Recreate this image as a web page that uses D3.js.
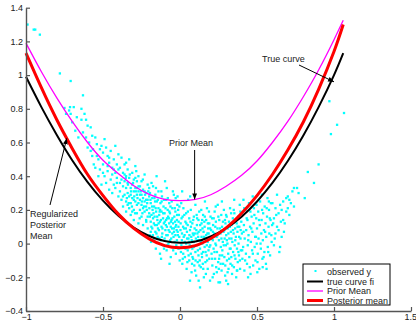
<!DOCTYPE html>
<html><head><meta charset="utf-8">
<script src="https://cdn.jsdelivr.net/npm/d3@7"></script>
<style>
html,body{margin:0;padding:0;background:#fff;}
svg{display:block;font-family:"Liberation Sans",Arial,sans-serif;}
</style></head>
<body><svg id="c" width="416" height="328"></svg>
<script>
// ---- data ----
const curveX = [-1,-0.9,-0.8,-0.7,-0.6,-0.5,-0.4,-0.3,-0.2,-0.1,0,0.1,0.2,0.3,0.4,0.5,0.6,0.7,0.8,0.9,1.0,1.06];
const trueCurve = [0.99,0.81,0.645,0.495,0.365,0.255,0.165,0.095,0.045,0.015,0.005,0.012,0.042,0.092,0.16,0.25,0.36,0.49,0.64,0.81,1.0,1.13];
const priorMean = [1.19,1.02,0.865,0.725,0.60,0.495,0.415,0.343,0.292,0.263,0.255,0.262,0.29,0.34,0.405,0.49,0.6,0.725,0.87,1.03,1.21,1.325];
const posteriorMean = [1.13,0.925,0.735,0.565,0.41,0.285,0.175,0.09,0.028,-0.012,-0.025,-0.012,0.03,0.093,0.18,0.285,0.41,0.555,0.72,0.915,1.14,1.30];
const observed = [
[-0.99,1.30],[-0.95,1.27],[-0.94,1.27],[-0.91,1.24],[-0.78,1.01],
[-0.71,0.965],[-0.63,0.88],[-0.75,0.805],[-0.714,0.81],[-0.69,0.81],[-0.64,0.80],[-0.62,0.77],[-0.74,0.77],[-0.71,0.77],[-0.64,0.735],[-0.61,0.735],[-0.68,0.67],[-0.66,0.63],[-0.61,0.63],[-0.70,0.72],[-0.67,0.75],[-0.60,0.70],[-0.63,0.66],[-0.72,0.79],
[-0.58,0.69],[-0.49,0.62],[-0.54,0.59],[-0.51,0.58],[-0.52,0.56],[-0.565,0.56],[-0.59,0.60],[-0.57,0.52],[-0.55,0.63],[-0.53,0.50],[-0.50,0.54],[-0.48,0.57],[-0.47,0.52],[-0.46,0.48],[-0.45,0.55],[-0.44,0.45],[-0.43,0.50],[-0.42,0.42],[-0.41,0.47],[-0.40,0.53],[-0.56,0.47],[-0.52,0.44],[-0.49,0.40],[-0.47,0.43],[-0.45,0.38],[-0.43,0.35],[-0.41,0.39],[-0.58,0.55],[-0.54,0.52],[-0.50,0.47],[-0.48,0.36],[-0.46,0.32],[-0.44,0.30],[-0.42,0.33],[-0.40,0.28],[-0.53,0.40],[-0.51,0.35],[-0.47,0.46],[-0.44,0.41],[-0.42,0.58],[-0.57,0.64],[-0.60,0.57],[-0.55,0.45],[-0.50,0.42],[-0.46,0.51],[-0.43,0.44],[-0.41,0.36],[-0.40,0.44],
[-0.39,0.31],[-0.39,0.45],[-0.38,0.26],[-0.38,0.38],[-0.38,0.51],[-0.37,0.34],[-0.37,0.22],[-0.37,0.42],[-0.36,0.29],[-0.36,0.47],[-0.36,0.37],[-0.35,0.19],[-0.35,0.33],[-0.35,0.40],[-0.35,0.25],[-0.34,0.30],[-0.34,0.44],[-0.34,0.36],[-0.33,0.21],[-0.33,0.28],[-0.33,0.39],[-0.33,0.50],[-0.32,0.33],[-0.32,0.24],[-0.32,0.17],[-0.31,0.35],[-0.31,0.42],[-0.31,0.27],[-0.30,0.31],[-0.30,0.20],[-0.30,0.38],[-0.30,0.14],[-0.29,0.25],[-0.29,0.33],[-0.29,0.46],[-0.28,0.29],[-0.28,0.18],[-0.28,0.37],[-0.28,0.23],[-0.27,0.31],[-0.27,0.12],[-0.27,0.40],[-0.26,0.26],[-0.26,0.20],[-0.26,0.34],[-0.25,0.29],[-0.25,0.16],[-0.25,0.37],[-0.25,0.23],[-0.24,0.27],[-0.24,0.11],[-0.24,0.32],[-0.23,0.19],[-0.23,0.25],[-0.23,0.41],[-0.22,0.30],[-0.22,0.14],[-0.22,0.22],[-0.21,0.35],[-0.21,0.26],[-0.21,0.09],[-0.20,0.18],[-0.20,0.28],[-0.20,0.33],[-0.39,0.36],[-0.37,0.28],[-0.36,0.41],[-0.34,0.23],[-0.32,0.29],[-0.31,0.19],[-0.29,0.39],[-0.27,0.24],[-0.26,0.29],[-0.24,0.21],[-0.22,0.26],[-0.21,0.16],[-0.35,0.48],[-0.30,0.26],[-0.28,0.33],[-0.23,0.31],
[-0.345,0.27],[-0.338,0.35],[-0.333,0.24],[-0.326,0.41],[-0.318,0.31],[-0.312,0.22],[-0.305,0.36],[-0.297,0.28],[-0.291,0.18],[-0.284,0.43],[-0.276,0.27],[-0.269,0.34],[-0.262,0.15],[-0.255,0.31],[-0.248,0.25],[-0.241,0.38],[-0.234,0.22],[-0.227,0.29],[-0.219,0.13],[-0.213,0.24],[-0.206,0.31],[-0.352,0.39],[-0.287,0.31],[-0.244,0.18],[-0.216,0.20],
[-0.199,0.21],[-0.197,0.05],[-0.195,0.30],[-0.19,0.13],[-0.19,0.24],[-0.188,0.01],[-0.185,0.17],[-0.18,0.09],[-0.18,0.27],[-0.178,0.20],[-0.175,0.34],[-0.17,0.12],[-0.17,0.03],[-0.168,0.22],[-0.165,0.16],[-0.16,0.07],[-0.16,0.29],[-0.157,-0.03],[-0.155,0.19],[-0.15,0.11],[-0.15,0.25],[-0.147,0.14],[-0.145,0.04],[-0.14,0.21],[-0.14,0.31],[-0.137,0.08],[-0.135,0.17],[-0.13,-0.06],[-0.13,0.13],[-0.127,0.24],[-0.125,0.02],[-0.12,0.19],[-0.12,0.10],[-0.117,0.28],[-0.115,0.06],[-0.11,0.15],[-0.11,-0.01],[-0.107,0.22],[-0.105,0.12],[-0.10,0.03],[-0.10,0.18],[-0.097,0.37],[-0.095,0.08],[-0.09,0.14],[-0.09,0.26],[-0.087,-0.04],[-0.085,0.10],[-0.08,0.20],[-0.08,0.05],[-0.077,0.16],[-0.075,0.00],[-0.07,0.12],[-0.07,0.24],[-0.067,0.07],[-0.065,0.18],[-0.06,-0.08],[-0.06,0.10],[-0.057,0.03],[-0.055,0.14],[-0.05,0.21],[-0.05,0.06],[-0.047,-0.02],[-0.045,0.12],[-0.04,0.29],[-0.04,0.09],[-0.037,0.16],[-0.035,0.01],[-0.03,0.05],[-0.03,0.19],[-0.027,-0.06],[-0.025,0.11],[-0.02,0.02],[-0.02,0.14],[-0.017,0.23],[-0.015,0.07],[-0.01,-0.03],[-0.01,0.10],[-0.007,0.17],[-0.005,0.04],[-0.002,-0.10],[-0.19,0.07],[-0.175,0.15],[-0.162,0.25],[-0.143,0.09],[-0.132,0.19],[-0.118,0.04],[-0.103,0.26],[-0.092,0.11],[-0.082,-0.01],[-0.072,0.15],[-0.062,0.22],[-0.052,0.09],[-0.042,0.04],[-0.032,0.13],[-0.022,0.08],[-0.012,0.20],[-0.185,0.36],[-0.152,0.40],[-0.123,-0.09],[-0.068,-0.12],[-0.028,0.27],
[-0.196,0.16],[-0.192,0.26],[-0.186,0.10],[-0.181,0.22],[-0.176,0.05],[-0.172,0.18],[-0.166,0.27],[-0.163,0.11],[-0.158,0.21],[-0.153,0.06],[-0.148,0.16],[-0.144,0.26],[-0.139,0.12],[-0.134,0.03],[-0.129,0.20],[-0.124,0.14],[-0.119,0.25],[-0.114,0.09],[-0.109,0.18],[-0.104,-0.03],[-0.099,0.13],[-0.094,0.21],[-0.089,0.05],[-0.084,0.15],[-0.079,0.27],[-0.074,0.08],[-0.069,0.19],[-0.064,0.02],[-0.059,0.13],[-0.054,0.25],[-0.049,0.15],[-0.044,-0.04],[-0.039,0.07],[-0.034,0.21],[-0.029,0.10],[-0.024,-0.01],[-0.019,0.17],[-0.014,0.05],[-0.009,0.13],[-0.004,0.22],[-0.156,0.33],[-0.121,0.31],[-0.086,0.33],[-0.046,0.31],[-0.016,0.28],
[0.003,0.08],[0.006,-0.05],[0.01,0.15],[0.012,0.02],[0.015,-0.12],[0.02,0.10],[0.022,0.21],[0.025,-0.02],[0.03,0.05],[0.032,-0.08],[0.035,0.13],[0.04,0.00],[0.04,0.18],[0.043,-0.15],[0.045,0.07],[0.05,-0.04],[0.05,0.11],[0.053,0.26],[0.055,0.03],[0.06,-0.10],[0.06,0.15],[0.063,-0.01],[0.065,0.08],[0.07,-0.06],[0.07,0.20],[0.073,0.04],[0.075,-0.17],[0.08,0.12],[0.08,-0.03],[0.083,0.06],[0.085,-0.09],[0.09,0.16],[0.09,0.01],[0.093,-0.13],[0.095,0.09],[0.10,-0.05],[0.10,0.23],[0.103,0.03],[0.105,-0.19],[0.11,0.11],[0.11,-0.01],[0.113,0.06],[0.115,-0.11],[0.12,0.14],[0.12,-0.07],[0.123,0.02],[0.125,0.19],[0.13,-0.03],[0.13,-0.26],[0.133,0.08],[0.135,-0.14],[0.14,0.04],[0.14,0.12],[0.143,-0.08],[0.145,0.00],[0.15,0.17],[0.15,-0.05],[0.153,0.07],[0.155,-0.20],[0.16,0.10],[0.16,-0.02],[0.163,0.03],[0.165,-0.11],[0.17,0.14],[0.17,0.05],[0.173,-0.07],[0.175,0.21],[0.18,-0.15],[0.18,0.01],[0.183,0.09],[0.185,-0.04],[0.19,0.12],[0.19,-0.09],[0.193,0.04],[0.195,-0.22],[0.198,0.16],[0.008,0.24],[0.018,-0.09],[0.028,0.17],[0.038,0.09],[0.048,-0.11],[0.058,0.01],[0.068,0.13],[0.078,-0.12],[0.088,0.05],[0.098,-0.16],[0.108,0.17],[0.118,0.04],[0.128,-0.10],[0.138,0.20],[0.148,-0.12],[0.158,0.13],[0.168,-0.18],[0.178,0.06],[0.188,0.19],[0.197,-0.01],[0.014,0.31],[0.066,0.28],[0.121,-0.22],[0.162,0.25],[0.065,-0.22],
[0.004,0.12],[0.009,-0.01],[0.013,0.06],[0.017,0.16],[0.021,-0.06],[0.026,0.09],[0.031,0.01],[0.036,-0.03],[0.041,0.12],[0.046,0.03],[0.051,0.19],[0.056,-0.07],[0.061,0.05],[0.066,-0.02],[0.071,0.10],[0.076,0.02],[0.081,-0.08],[0.086,0.14],[0.091,-0.02],[0.096,0.06],[0.101,-0.10],[0.106,0.08],[0.111,0.15],[0.116,-0.04],[0.121,0.07],[0.126,-0.13],[0.131,0.11],[0.136,0.01],[0.141,-0.06],[0.146,0.09],[0.151,-0.15],[0.156,0.04],[0.161,0.16],[0.166,-0.05],[0.171,0.02],[0.176,-0.10],[0.181,0.12],[0.186,0.06],[0.191,-0.02],[0.196,0.09],[0.024,0.04],[0.084,0.01],[0.114,0.02],[0.144,0.14],[0.174,-0.01],
[0.202,0.08],[0.205,-0.06],[0.208,0.15],[0.21,-0.13],[0.213,0.02],[0.215,0.11],[0.218,-0.03],[0.22,-0.18],[0.223,0.06],[0.225,0.19],[0.228,-0.09],[0.23,0.00],[0.233,0.13],[0.235,-0.14],[0.238,0.04],[0.24,-0.05],[0.243,0.09],[0.245,0.23],[0.248,-0.11],[0.25,-0.23],[0.253,0.02],[0.255,0.14],[0.258,-0.07],[0.26,-0.23],[0.263,0.06],[0.265,-0.02],[0.268,0.17],[0.27,-0.16],[0.273,0.10],[0.275,-0.04],[0.278,0.01],[0.28,-0.12],[0.283,0.07],[0.285,0.20],[0.288,-0.08],[0.29,0.03],[0.293,-0.19],[0.295,0.12],[0.298,-0.01],[0.30,-0.22],[0.30,0.05],[0.303,0.16],[0.305,-0.10],[0.308,0.00],[0.31,0.09],[0.313,-0.06],[0.315,-0.15],[0.318,0.13],[0.32,0.03],[0.323,-0.03],[0.325,0.21],[0.328,-0.12],[0.33,0.07],[0.333,-0.08],[0.335,0.11],[0.338,-0.18],[0.34,0.01],[0.343,0.15],[0.345,-0.05],[0.348,0.06],[0.35,-0.14],[0.353,0.18],[0.355,-0.01],[0.358,0.09],[0.36,-0.09],[0.363,0.04],[0.365,-0.20],[0.368,0.12],[0.37,-0.03],[0.373,0.07],[0.375,-0.11],[0.378,0.16],[0.38,0.00],[0.383,-0.07],[0.385,0.10],[0.388,0.23],[0.39,-0.15],[0.393,0.03],[0.395,-0.04],[0.398,0.13],[0.212,-0.20],[0.232,0.22],[0.252,-0.15],[0.272,0.25],[0.292,0.14],[0.312,-0.24],[0.332,0.18],[0.352,0.26],[0.372,-0.16],[0.392,0.19],
[0.204,0.03],[0.209,-0.09],[0.214,0.07],[0.219,0.15],[0.224,-0.05],[0.229,0.10],[0.234,-0.01],[0.239,-0.17],[0.244,0.05],[0.249,0.16],[0.254,-0.09],[0.259,0.09],[0.264,-0.12],[0.269,0.03],[0.274,-0.07],[0.279,0.13],[0.284,-0.01],[0.289,0.08],[0.294,-0.13],[0.299,0.17],[0.304,0.02],[0.309,-0.17],[0.314,0.06],[0.319,-0.09],[0.324,0.10],[0.329,-0.03],[0.334,0.03],[0.339,-0.13],[0.344,0.08],[0.349,0.20],[0.354,-0.07],[0.359,0.02],[0.364,0.14],[0.369,-0.16],[0.374,0.10],[0.379,-0.05],[0.384,0.04],[0.389,-0.10],[0.394,0.08],[0.399,0.18],
[0.402,0.06],[0.405,-0.09],[0.408,0.17],[0.41,-0.02],[0.415,0.11],[0.418,-0.16],[0.42,0.03],[0.425,0.20],[0.428,-0.06],[0.43,0.08],[0.435,-0.12],[0.438,0.14],[0.44,-0.01],[0.445,0.05],[0.448,0.24],[0.45,-0.08],[0.455,0.10],[0.458,-0.18],[0.46,0.01],[0.465,0.16],[0.468,-0.04],[0.47,0.07],[0.475,-0.13],[0.478,0.12],[0.48,0.21],[0.485,-0.02],[0.488,0.04],[0.49,-0.10],[0.495,0.15],[0.498,0.00],[0.50,0.09],[0.505,-0.06],[0.508,0.19],[0.51,0.03],[0.515,-0.15],[0.518,0.11],[0.52,0.25],[0.525,-0.03],[0.528,0.06],[0.53,0.14],[0.535,-0.09],[0.538,0.02],[0.54,0.18],[0.545,0.08],[0.548,-0.05],[0.55,0.22],[0.555,0.12],[0.558,-0.12],[0.56,0.04],[0.565,0.16],[0.568,0.27],[0.57,-0.02],[0.575,0.10],[0.578,0.20],[0.58,0.06],[0.585,-0.07],[0.588,0.14],[0.59,0.24],[0.595,0.01],[0.598,0.11],[0.412,0.26],[0.442,-0.20],[0.472,0.28],[0.502,-0.17],[0.532,0.29],[0.562,-0.15],
[0.404,-0.04],[0.413,0.07],[0.423,-0.10],[0.433,0.15],[0.443,0.02],[0.453,-0.14],[0.463,0.09],[0.473,-0.06],[0.483,0.17],[0.493,0.04],[0.503,-0.11],[0.513,0.14],[0.523,0.00],[0.533,0.20],[0.543,-0.08],[0.553,0.07],[0.563,0.21],[0.573,-0.05],[0.583,0.15],[0.593,0.05],[0.417,0.21],[0.457,0.19],[0.497,0.23],[0.537,-0.14],[0.577,0.25],
[0.60,0.24],[0.62,0.21],[0.65,0.23],[0.67,0.25],[0.69,0.27],[0.70,0.28],[0.73,0.31],[0.74,0.33],[0.76,0.33],[0.77,0.30],[0.74,0.22],[0.71,0.17],[0.66,0.04],[0.65,-0.02],[0.645,-0.05],[0.61,0.15],[0.63,0.10],[0.64,0.18],[0.62,0.06],[0.68,0.12],[0.66,0.20],[0.61,-0.01],[0.63,0.29],[0.67,0.14],[0.69,0.19],[0.72,0.24],[0.64,0.08],[0.605,0.12],[0.615,0.03],[0.675,0.07],[0.70,0.21],[0.625,0.17],[0.655,0.13],[0.71,0.26],
[0.81,0.27],[0.83,0.425],[0.87,0.36],[0.90,0.47],[0.98,0.65],[1.02,0.705],[0.97,0.845],[1.065,0.775]
];
const xTicks = [-1,-0.5,0,0.5,1,1.5];
const xTickLabels = ["\u22121","\u22120.5","0","0.5","1","1.5"];
const yTicks = [-0.4,-0.2,0,0.2,0.4,0.6,0.8,1,1.2,1.4];
const yTickLabels = ["\u22120.4","\u22120.2","0","0.2","0.4","0.6","0.8","1","1.2","1.4"];
const legendLabels = ["observed y","true curve fi","Prior Mean","Posterior mean"];
const seriesColors = {observed:"#00ffff", trueCurve:"#000000", prior:"#ff00ff", posterior:"#ff0000"};

// ---- layout ----
const W = 416, H = 328;
const m = {left:26, right:5, top:7.7, bottom:17};
const svg = d3.select("#c");
const x = d3.scaleLinear().domain([-1,1.5]).range([m.left, W - m.right]);
const y = d3.scaleLinear().domain([-0.4,1.4]).range([H - m.bottom, m.top]);
const font = "9px";
const textCol = "#222";
const ms = 2.3;

// scatter
svg.append("g").selectAll("rect").data(observed).join("rect")
  .attr("x", d => x(d[0]) - ms/2).attr("y", d => y(d[1]) - ms/2)
  .attr("width", ms).attr("height", ms)
  .attr("fill", seriesColors.observed);

const line = d3.line().x((d,i) => x(curveX[i])).y(d => y(d)).curve(d3.curveNatural);
svg.append("path").datum(trueCurve).attr("d", line).attr("fill","none")
  .attr("stroke", seriesColors.trueCurve).attr("stroke-width", 2);
svg.append("path").datum(priorMean).attr("d", line).attr("fill","none")
  .attr("stroke", seriesColors.prior).attr("stroke-width", 1.3);
svg.append("path").datum(posteriorMean).attr("d", line).attr("fill","none")
  .attr("stroke", seriesColors.posterior).attr("stroke-width", 3);

// axes
const axCol = "#555";
const gx = svg.append("g").attr("transform", `translate(0,${y(-0.4)})`)
  .call(d3.axisBottom(x).tickValues(xTicks).tickFormat((d,i) => xTickLabels[i])
        .tickSizeInner(-4).tickSizeOuter(0).tickPadding(3));
const gy = svg.append("g").attr("transform", `translate(${x(-1)},0)`)
  .call(d3.axisLeft(y).tickValues(yTicks).tickFormat((d,i) => yTickLabels[i])
        .tickSizeInner(-4).tickSizeOuter(0).tickPadding(3));
[gx, gy].forEach(g => {
  g.select(".domain").attr("stroke", axCol).attr("stroke-width", 1.4);
  g.selectAll(".tick line").attr("stroke", axCol).attr("stroke-width", 1.2);
  g.selectAll(".tick text").attr("fill", textCol).style("font-size", font)
   .style("font-family", '"Liberation Sans",Arial,sans-serif');
});
gx.selectAll(".tick text").filter((d,i) => i === xTicks.length - 1).attr("text-anchor","end").attr("dx", 5.5);

// arrow marker
const defs = svg.append("defs");
defs.append("marker").attr("id","ah").attr("viewBox","0 0 10 10")
  .attr("refX",10).attr("refY",5).attr("markerWidth",6).attr("markerHeight",6)
  .attr("markerUnits","userSpaceOnUse").attr("orient","auto")
  .append("path").attr("d","M0,1 L10,5 L0,9 Z").attr("fill","#000");

function arrow(x1,y1,x2,y2){
  svg.append("line").attr("x1",x1).attr("y1",y1).attr("x2",x2).attr("y2",y2)
    .attr("stroke","#000").attr("stroke-width",1).attr("marker-end","url(#ah)");
}
function label(tx,ty,txt){
  svg.append("text").attr("x",tx).attr("y",ty).text(txt)
    .attr("fill",textCol).style("font-size",font);
}
// annotations (anchored to data points on the curves)
label(262, 62, "True curve");
arrow(299, 65, x(1.0), y(0.96));
label(169, 146, "Prior Mean");
arrow(x(0.095), 150, x(0.095), y(0.262));
label(30, 217, "Regularized");
label(30, 228, "Posterior");
label(30, 239, "Mean");
arrow(50, 205, x(-0.735), y(0.625));

// legend
const lg = svg.append("g");
lg.append("rect").attr("x",303).attr("y",264).attr("width",87).attr("height",41)
  .attr("fill","#fff").attr("stroke","#000").attr("stroke-width",1);
const lgY = [271.5, 281.5, 291, 300.5];
lg.append("rect").attr("x",314.5).attr("y",lgY[0]-1.5).attr("width",2).attr("height",2).attr("fill",seriesColors.observed);
[[seriesColors.trueCurve,2],[seriesColors.prior,1.3],[seriesColors.posterior,3]].forEach((s,i) => {
  lg.append("line").attr("x1",307).attr("x2",323).attr("y1",lgY[i+1]).attr("y2",lgY[i+1])
    .attr("stroke",s[0]).attr("stroke-width",s[1]);
});
legendLabels.forEach((t,i) => {
  lg.append("text").attr("x",327).attr("y",lgY[i]+3.2).text(t)
    .attr("fill",textCol).style("font-size",font);
});
</script></body></html>
